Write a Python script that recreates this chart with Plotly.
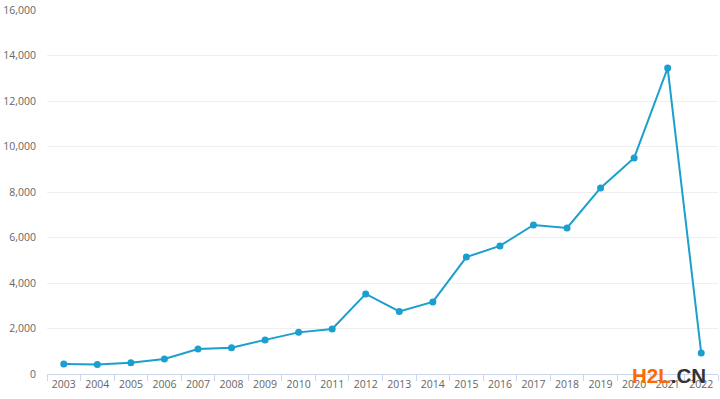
import plotly.graph_objects as go

years = [str(y) for y in range(2003, 2023)]
values = [440, 420, 490, 660, 1100, 1150, 1500, 1830, 1980, 3520,
          2750, 3170, 5140, 5630, 6550, 6420, 8180, 9500, 13450, 920]
y_ticks = [0, 2000, 4000, 6000, 8000, 10000, 12000, 14000, 16000]
y_tick_text = ["0", "2,000", "4,000", "6,000", "8,000", "10,000", "12,000", "14,000", "16,000"]

line_color = "#1a9fce"

fig = go.Figure()
fig.add_trace(go.Scatter(
    x=years, y=values, mode="lines+markers",
    line=dict(color=line_color, width=2),
    marker=dict(color=line_color, size=7),
    hoverinfo="x+y",
))

fig.update_layout(
    width=720, height=399,
    margin=dict(l=47, r=2, t=10, b=25),
    paper_bgcolor="white", plot_bgcolor="white",
    showlegend=False,
    font=dict(family="Open Sans, sans-serif", size=10.5, color="#666666"),
    xaxis=dict(
        type="category",
        tickson="boundaries",
        ticks="outside", ticklen=6, tickcolor="#ccd6eb",
        showline=True, linecolor="#ccd6eb", linewidth=1,
        showgrid=False, zeroline=False,
        tickangle=0, automargin=False,
        tickfont=dict(size=10.5, color="#666666"),
        range=[-0.5, 19.5],
    ),
    yaxis=dict(
        range=[0, 16000],
        tickvals=y_ticks, ticktext=y_tick_text,
        showgrid=True, gridcolor="#efefef", gridwidth=1,
        zeroline=False, showline=False, automargin=False,
        ticks="", ticklabelstandoff=10,
        tickfont=dict(size=10.5, color="#666666"),
    ),
)

fig.add_annotation(
    xref="paper", yref="paper", x=0.985, y=-0.005, xanchor="right", yanchor="middle",
    text="<b><span style='color:#ff6a00'>H2L</span><span style='color:#333333'>.CN</span></b>",
    showarrow=False, font=dict(family="Liberation Sans, Arial, sans-serif", size=20.5),
)

fig.write_html("out.html", post_script="document.body.style.margin='0';",
               config={"displayModeBar": False})
